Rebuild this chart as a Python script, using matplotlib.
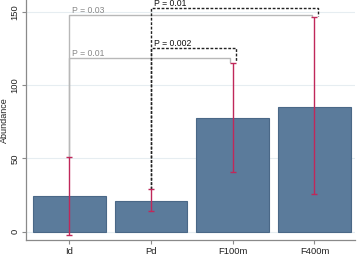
import matplotlib
matplotlib.use("Agg")
import matplotlib.pyplot as plt

plt.rcParams["font.family"] = ["Liberation Sans", "DejaVu Sans"]

categories = ["Id", "Pd", "F100m", "F400m"]
abundance = [24.3, 21.1, 77.5, 85.2]
err_low = [-2.5, 14.1, 40.5, 25.5]
err_high = [51.1, 29.3, 115.0, 146.2]

# comparisons: (from index, to index, bracket level, label, style)
comp_from = [0, 0, 1, 1]
comp_to = [2, 3, 2, 3]
comp_level = [118.7, 147.7, 125.0, 152.5]
comp_label = ["P = 0.01", "P = 0.03", "P = 0.002", "P = 0.01"]
comp_dashed = [False, False, True, True]

yticks = [0, 50, 100, 150]

fig = plt.figure(figsize=(3.58, 2.57), dpi=100)
ax = fig.add_axes([0.0726, 0.066, 0.919, 0.934])

x = list(range(len(categories)))
bar_color = "#5b7b9b"
ax.bar(x, abundance, width=0.89, color=bar_color, edgecolor="#4a6887",
       linewidth=0.8, zorder=2)

err_color = "#c0285a"
lower = [a - l for a, l in zip(abundance, err_low)]
upper = [h - a for a, h in zip(abundance, err_high)]
ax.errorbar(x, abundance, yerr=[lower, upper], fmt="none", ecolor=err_color,
            elinewidth=1.0, capsize=2.2, capthick=1.0, zorder=4)

for f, t, lev, lab, dashed in zip(comp_from, comp_to, comp_level, comp_label, comp_dashed):
    if dashed:
        off = 0.04
        col = "#222222"
        ls = (0, (2, 1.2))
        lw = 1.0
        tcol = "#111111"
    else:
        off = -0.035
        col = "#b8b8b8"
        ls = "-"
        lw = 1.0
        tcol = "#888888"
    x0 = f
    x1 = t + off
    ax.plot([x0, x0, x1, x1], [err_high[f], lev, lev, err_high[t] + 1.0],
            color=col, linestyle=ls, linewidth=lw, zorder=3 if dashed else 1)
    ax.text(x0 + 0.03, lev + 1.4, lab, fontsize=6.2, color=tcol,
            ha="left", va="baseline", zorder=5)

ax.set_xlim(-0.532, 3.496)
ax.set_ylim(-5.66, 158)
ax.set_xticks(x)
ax.set_xticklabels(categories, fontsize=6.8, color="#222222")
ax.set_yticks(yticks)
ax.set_yticklabels([str(v) for v in yticks], fontsize=6.8, rotation=90,
                   va="center", color="#222222")
ax.set_ylabel("Abundance", fontsize=6.5, color="#222222")
ax.yaxis.set_label_coords(-0.052, 0.5)

for yv in yticks:
    ax.axhline(yv, color="#e6edf1", linewidth=0.8, zorder=0)

for s in ["top", "right"]:
    ax.spines[s].set_visible(False)
for s in ["left", "bottom"]:
    ax.spines[s].set_color("#8a8a8a")
    ax.spines[s].set_linewidth(0.9)
ax.tick_params(axis="both", colors="#8a8a8a", length=3, width=0.8, labelcolor="#222222")
ax.tick_params(axis="y", pad=1.5)
ax.tick_params(axis="x", pad=2)

fig.savefig("out.png", dpi=100)
